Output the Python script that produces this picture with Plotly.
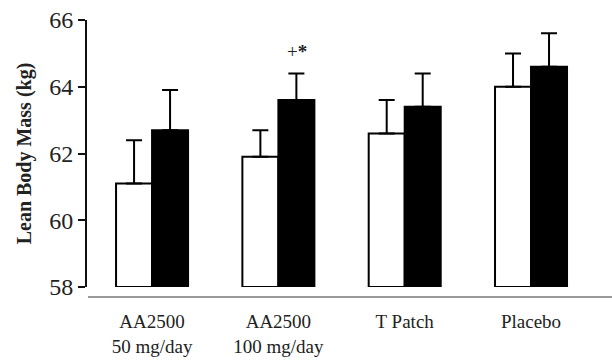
import plotly.graph_objects as go

categories = ["AA2500<br>50 mg/day", "AA2500<br>100 mg/day", "T Patch", "Placebo"]
baseline_vals = [61.1, 61.9, 62.6, 64.0]
baseline_err = [1.3, 0.8, 1.0, 1.0]
followup_vals = [62.7, 63.6, 63.4, 64.6]
followup_err = [1.2, 0.8, 1.0, 1.0]
y_ticks = [58, 60, 62, 64, 66]
y_floor = 58

x = list(range(len(categories)))
serif = "Liberation Serif, Times New Roman, serif"

fig = go.Figure()
fig.add_trace(go.Bar(
    x=x, y=[v - y_floor for v in baseline_vals], base=y_floor,
    marker=dict(color="white", line=dict(color="black", width=2)),
    error_y=dict(type="data", array=baseline_err, arrayminus=[0]*4, symmetric=False,
                 color="black", thickness=2, width=8),
    showlegend=False,
))
fig.add_trace(go.Bar(
    x=x, y=[v - y_floor for v in followup_vals], base=y_floor,
    marker=dict(color="black", line=dict(color="black", width=2)),
    error_y=dict(type="data", array=followup_err, arrayminus=[0]*4, symmetric=False,
                 color="black", thickness=2, width=8),
    showlegend=False,
))

fig.add_annotation(x=1.148, y=65.05, text="+<b>*</b>", showarrow=False,
                   font=dict(family=serif, size=19, color="#222"))

fig.add_shape(type="line", xref="paper", yref="paper", x0=0.002, x1=1, y0=-0.037, y1=-0.037,
              line=dict(color="#999", width=2))

fig.update_layout(
    width=612, height=364,
    margin=dict(l=87, r=0, t=20, b=77),
    paper_bgcolor="white", plot_bgcolor="white",
    barmode="group", bargap=0.43, bargroupgap=0,
    font=dict(family=serif, color="#222"),
)
fig.update_xaxes(range=[-0.515, 3.641], tickmode="array", tickvals=x, ticktext=categories,
                 showline=False, showgrid=False, zeroline=False, ticks="",
                 tickfont=dict(size=19), ticklabelstandoff=21)
fig.update_yaxes(range=[58, 66], tickvals=y_ticks, showgrid=False, zeroline=False,
                 showline=True, linecolor="#111", linewidth=2, ticks="outside", ticklen=7,
                 tickwidth=2, tickcolor="#111", tickfont=dict(size=24),
                 title=dict(text="<b>Lean Body Mass (kg)</b>", font=dict(size=20), standoff=12))

fig.write_html("out.html")
